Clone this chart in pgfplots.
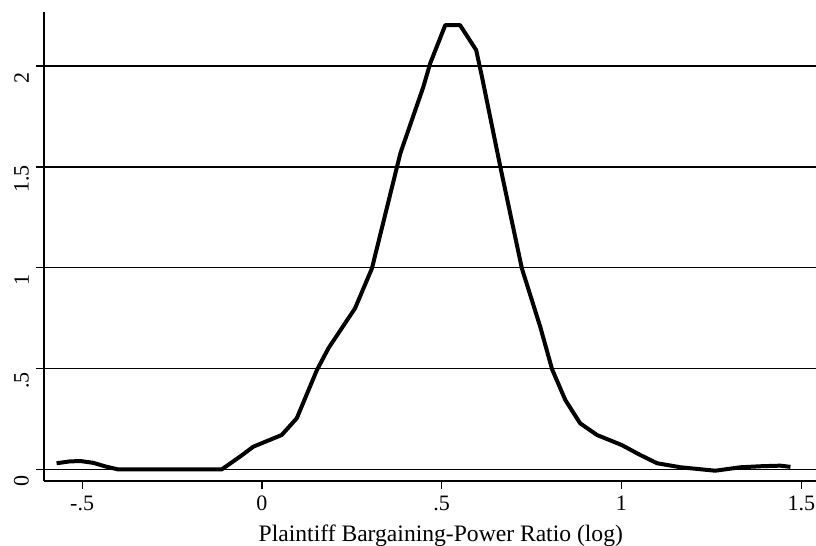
\documentclass[border=0pt]{standalone}
\usepackage{fontspec}
\setmainfont{Liberation Serif}
\usepackage{pgfplots}
\pgfplotsset{compat=1.18}

\begin{document}
\begin{tikzpicture}
\useasboundingbox (-22pt,-32.5pt) rectangle (386pt,240.5pt);
\begin{axis}[
  at={(0pt,0pt)}, anchor=south west,
  scale only axis, width=386pt, height=234.5pt,
  xmin=-0.606, xmax=1.541, ymin=-0.057, ymax=2.268,
  axis x line*=bottom, axis y line*=left,
  axis line style={-, line width=0.6pt, black},
  xtick={-0.5,0,0.5,1,1.5}, xticklabels={-.5,0,.5,1,1.5},
  ytick={0,0.5,1,1.5,2}, yticklabels={0,.5,1,1.5,2},
  tick align=outside, major tick length=4pt,
  tick style={line width=0.6pt, black},
  ymajorgrids, grid style={line width=0.6pt, black},
  tick label style={font=\fontsize{11}{12}\selectfont},
  yticklabel style={rotate=90, anchor=south, xshift=-6pt},
  xlabel={Plaintiff Bargaining-Power Ratio (log)},
  xlabel style={font=\fontsize{11.8}{13}\selectfont, at={(axis description cs:0.514,0)}, anchor=base, yshift=-30.5pt},
]
\addplot[black, line width=2pt, line join=round] coordinates {
(-0.571,0.031) (-0.535,0.040) (-0.505,0.042) (-0.469,0.033) (-0.435,0.015)
(-0.399,0.0) (-0.112,0.0) (-0.060,0.065) (-0.024,0.113) (0.055,0.171)
(0.097,0.254) (0.153,0.493) (0.185,0.601) (0.259,0.799) (0.306,0.997)
(0.385,1.567) (0.449,1.897) (0.468,2.013) (0.510,2.203) (0.551,2.203)
(0.596,2.079) (0.612,1.947) (0.663,1.501) (0.723,0.997) (0.774,0.708)
(0.807,0.497) (0.844,0.344) (0.885,0.229) (0.932,0.171) (1.001,0.121)
(1.052,0.072) (1.099,0.031) (1.164,0.011) (1.261,-0.006) (1.331,0.011)
(1.386,0.016) (1.442,0.019) (1.470,0.013)
};
\end{axis}
\end{tikzpicture}
\end{document}
